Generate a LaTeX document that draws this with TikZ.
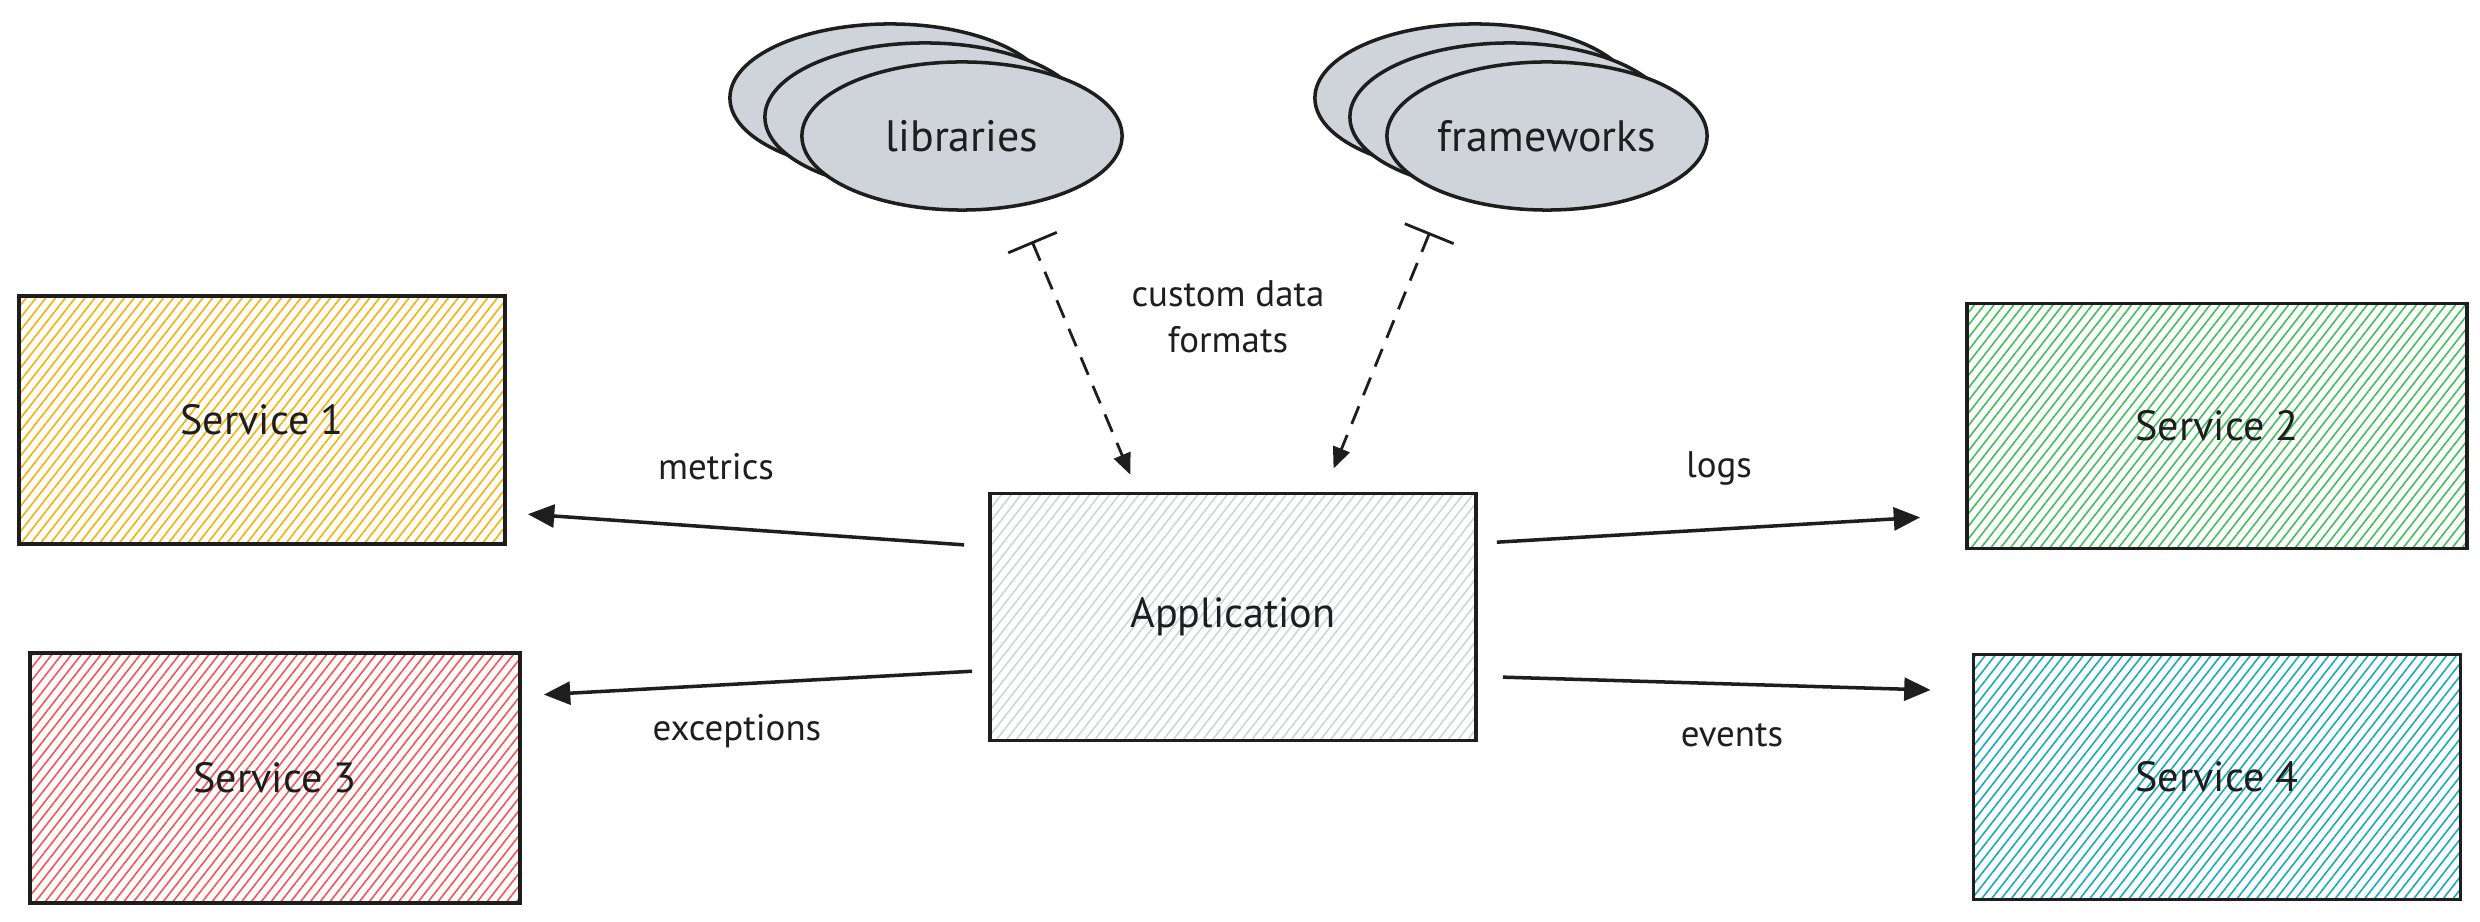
\documentclass[tikz,border=0pt]{standalone}
\usepackage{fontspec}
\setmainfont{PT Sans}
\usetikzlibrary{arrows.meta,patterns.meta,shapes.geometric,calc}
\definecolor{cyel}{HTML}{FAB005}
\definecolor{cgrn}{HTML}{40C057}
\definecolor{cred}{HTML}{FA5252}
\definecolor{cblu}{HTML}{15AABF}
\definecolor{cgry}{HTML}{CED4DA}
\definecolor{ink}{HTML}{1E1E1E}
\begin{document}
\begin{tikzpicture}[x=0.01cm,y=-0.01cm,
  hbox/.style={draw=ink, line width=1pt, inner sep=0pt, text=ink,
    font=\fontsize{12}{14}\selectfont},
  hatch/.style={pattern={Lines[angle=52,distance=2.2pt,line width=0.45pt]}, pattern color=#1},
  cloud/.style={ellipse, draw=ink, line width=1pt, fill=cgry, minimum width=3.2cm,
    minimum height=1.48cm, inner sep=0pt, text=ink, font=\fontsize{12.5}{14}\selectfont},
  conn/.style={draw=ink, line width=1pt, -{Triangle[length=7.5pt,width=6.5pt]}},
  dconn/.style={draw=ink, line width=0.8pt, dash pattern=on 5.4pt off 3.4pt,
    {Bar[width=15pt,line width=0.8pt]}-{Triangle[length=6pt,width=5pt]}},
  lbl/.style={font=\fontsize{10.5}{13}\selectfont, text=ink, align=center, inner sep=0pt}
]
\fill[white] (0,0) rectangle (2480,922);
\useasboundingbox (0,0) rectangle (2480,922);

% service boxes
\node[hbox, hatch=cyel, minimum width=4.86cm, minimum height=2.48cm] (s1) at (262,420) {Service 1};
\node[hbox, hatch=cgrn, minimum width=5.00cm, minimum height=2.45cm] (s2) at (2217,426) {Service 2};
\node[hbox, hatch=cred, minimum width=4.90cm, minimum height=2.50cm] (s3) at (275,778) {Service 3};
\node[hbox, hatch=cblu, minimum width=4.87cm, minimum height=2.45cm] (s4) at (2217,777) {Service 4};
\node[hbox, hatch=cgry, minimum width=4.86cm, minimum height=2.47cm] (app) at (1233,617) {Application};

% stacked ellipses
\node[cloud] (lib3) at (890,98) {};
\node[cloud] (lib2) at (925,117) {};
\node[cloud] (lib1) at (962,136) {libraries};
\node[cloud] (fw3) at (1475,98) {};
\node[cloud] (fw2) at (1510,117) {};
\node[cloud] (fw1) at (1547,136) {frameworks};

% labels
\node[lbl] (lmet) at (716,467) {metrics};
\node[lbl] (lexc) at (737,731) {exceptions};
\node[lbl] (llog) at (1719,468) {logs};
\node[lbl] (levt) at (1732,735) {events};
\node[lbl] (lcdf) at (1228,317) {custom data\\formats};

% solid connectors
\draw[conn, shorten <=0.24cm, shorten >=0.22cm]
  ($(app.north west)!0.219!(app.south west)$) -- ($(s1.north east)!0.871!(s1.south east)$);
\draw[conn, shorten <=0.16cm, shorten >=0.22cm]
  ($(app.north west)!0.713!(app.south west)$) -- ($(s3.north east)!0.176!(s3.south east)$);
\draw[conn, shorten <=0.19cm, shorten >=0.45cm]
  ($(app.north east)!0.206!(app.south east)$) -- ($(s2.north west)!0.857!(s2.south west)$);
\draw[conn, shorten <=0.25cm, shorten >=0.41cm]
  ($(app.north east)!0.737!(app.south east)$) -- ($(s4.north west)!0.155!(s4.south west)$);

% dashed connectors
\draw[dconn, shorten <=0.37cm, shorten >=0.185cm]
  (lib1.-52) -- ($(app.north west)!0.305!(app.north east)$);
\draw[dconn, shorten <=0.405cm, shorten >=0.25cm]
  (fw1.-150) -- ($(app.north west)!0.686!(app.north east)$);
\end{tikzpicture}
\end{document}
